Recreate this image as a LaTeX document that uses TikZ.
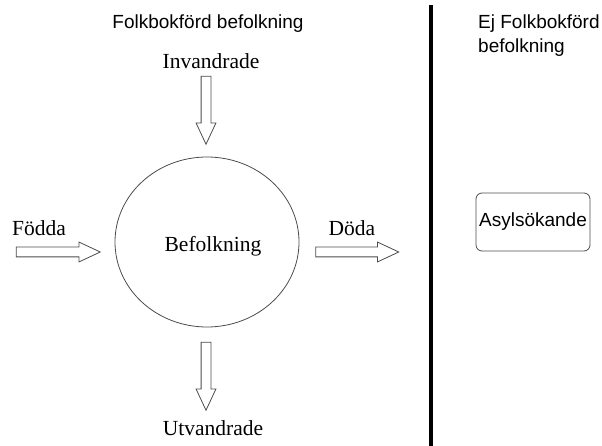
\documentclass[tikz,border=0pt]{standalone}
\usepackage{fontspec}
\setmainfont{Liberation Serif}
\newfontfamily\arialfont{Liberation Sans}
\usetikzlibrary{%
    positioning,
    shapes.arrows,
    shapes.geometric
}
\newcommand{\serifsize}{\fontsize{21.5}{24}\selectfont}
\newcommand{\sanssize}{\arialfont\fontsize{19}{24}\selectfont}

\begin{document}
\begin{tikzpicture}[x=1pt, y=-1pt,
    flow/.style={single arrow, draw=black!70, line width=0.8pt,
        inner sep=0pt, inner ysep=4.5pt, single arrow head extend=5pt,
        single arrow tip angle=50, single arrow head indent=0pt,
        minimum height=#1},
    word/.style={font=\serifsize, inner sep=0pt, anchor=base},
    head/.style={font=\sanssize, inner sep=0pt}]
    \useasboundingbox (0,0) rectangle (602,446);

    % left side: the registered population
    \node (regHead) [head, anchor=base] at (208,29) {Folkbokförd befolkning};
    \node (pop) [ellipse, draw=black!70, line width=0.8pt,
                 minimum width=184pt, minimum height=170pt] at (207,242) {};
    \node (popLabel) [word] at (213,252) {Befolkning};

    \foreach \Name/\Pos/\Angle/\Length in {%
        inArrow/{(206,105)}/-90/68pt,
        outArrow/{(206,371)}/-90/68pt,
        bornArrow/{(53,252)}/0/84pt,
        deadArrow/{(352,252)}/0/83pt%
    }
    \node (\Name) [flow=\Length, rotate=\Angle] at \Pos {};

    \foreach \Name/\Pos/\Text in {%
        inLabel/{(211,69)}/Invandrade,
        outLabel/{(213,435)}/Utvandrade,
        bornLabel/{(39,236)}/Födda,
        deadLabel/{(352,236)}/Döda%
    }
    \node (\Name) [word] at \Pos {\Text};

    % divider
    \coordinate (divTop) at (431,5);
    \coordinate (divBot) at (431,446);
    \draw [line width=4pt] (divTop) -- (divBot);

    % right side: not registered
    \node (unregHead) [head, anchor=north west, align=left] at (478,15)
        {Ej Folkbokförd\\befolkning};
    \node (asyl) [head, draw=black!70, line width=0.8pt, rounded corners=6pt,
                  minimum width=114pt, minimum height=58pt] at (533,222) {Asylsökande};
\end{tikzpicture}
\end{document}
